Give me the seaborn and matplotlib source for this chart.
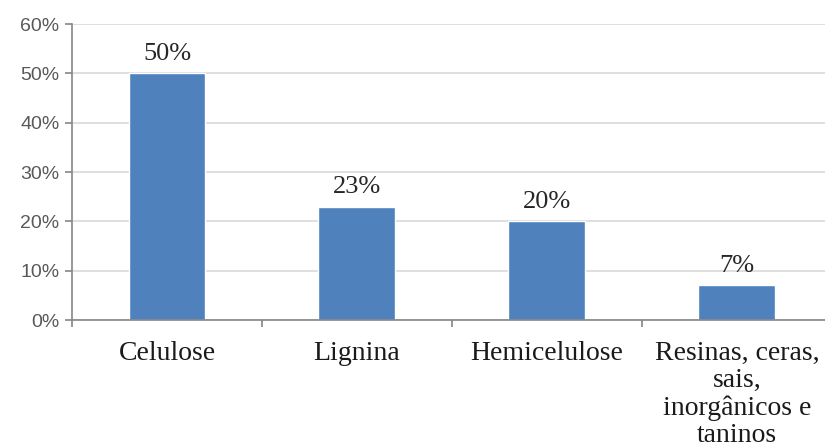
import pandas as pd
import matplotlib
matplotlib.use("Agg")
import matplotlib.pyplot as plt
import seaborn as sns
from matplotlib.ticker import PercentFormatter, FixedLocator

# data
componentes = ['Celulose', 'Lignina', 'Hemicelulose',
               'Resinas, ceras,\nsais,\ninorgânicos e\ntaninos']
percentuais = [0.50, 0.23, 0.20, 0.07]
yticks = [0.0, 0.1, 0.2, 0.3, 0.4, 0.5, 0.6]

df = pd.DataFrame({'Componente': componentes, 'Percentual': percentuais})

sns.set_style('white')

fig = plt.figure(figsize=(8.25, 4.48), dpi=100)
ax = fig.add_axes([0.0873, 0.2857, 0.921, 0.6607])

sns.barplot(x='Componente', y='Percentual', data=df, color='#4F81BD',
            width=0.405, saturation=1, ax=ax)

ax.set_xlim(-0.5, 3.5)
ax.set_ylim(0, 0.6)
ax.set_xlabel('')
ax.set_ylabel('')

# gridlines
ax.set_yticks(yticks)
ax.yaxis.grid(True, color='#d9d9d9', linewidth=1.2)
ax.set_axisbelow(True)
ax.yaxis.set_major_formatter(PercentFormatter(1.0, decimals=0))

for side in ['top', 'right']:
    ax.spines[side].set_visible(False)
for side in ['left', 'bottom']:
    ax.spines[side].set_color('#868686')
    ax.spines[side].set_linewidth(1.2)

ax.tick_params(axis='y', which='major', left=True, length=5, width=1.2,
               color='#868686', labelsize=14, labelcolor='#595959', pad=4)
for lab in ax.get_yticklabels():
    lab.set_fontfamily('Liberation Sans')

# category boundary ticks on x
ax.xaxis.set_minor_locator(FixedLocator([-0.5, 0.5, 1.5, 2.5, 3.5]))
ax.tick_params(axis='x', which='minor', bottom=True, length=5, width=1.2,
               color='#868686')
ax.tick_params(axis='x', which='major', bottom=False, length=0, pad=15)
for lab in ax.get_xticklabels():
    lab.set_fontfamily('Liberation Serif')
    lab.set_fontsize(20)
    lab.set_color('#1a1a1a')
    lab.set_linespacing(1.12)

ax.bar_label(ax.containers[0], labels=[f'{v:.0%}' for v in percentuais],
             padding=6, fontsize=19, family='Liberation Serif', color='#262626')

fig.savefig('out.png', dpi=100)
